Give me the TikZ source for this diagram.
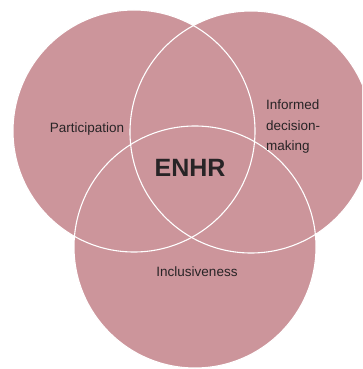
\documentclass[tikz,border=0pt]{standalone}
\usepackage{fontspec}
\setmainfont{Liberation Sans}
\usepackage{tikz}
\definecolor{rosefill}{RGB}{204,149,155}
\definecolor{inktext}{RGB}{40,36,38}
\tikzset{
REGION/.style={fill=rosefill, draw=none},
RIM/.style={draw=white, line width=1.1pt},
LABEL/.style={text=inktext, font=\fontsize{13.5}{20.5}\selectfont, inner sep=0pt},
CORE/.style={text=inktext, font=\fontsize{25}{25}\selectfont\bfseries, inner sep=0pt},
}

\begin{document}
\begin{tikzpicture}[x=1pt, y=-1pt] %Venn of three sets
	\useasboundingbox (0,0) rectangle (362,369);
	\clip (0,0) rectangle (362,369);
	\path[REGION] (134,131) circle (121);
	\path[REGION] (251,132) circle (121);
	\path[REGION] (195,247) circle (121);
	\path[RIM] (134,131) circle (121);
	\path[RIM] (251,132) circle (121);
	\path[RIM] (195,247) circle (121);
	\node[LABEL] (particip) at (87,129) {Participation};
	\node[LABEL, anchor=west, align=left] (informed) at (266,127) {Informed\\decision-\\making};
	\node[LABEL] (inclus) at (197,272) {Inclusiveness};
	\node[CORE] (enhr) at (190,168) {ENHR};
\end{tikzpicture}
\end{document}
